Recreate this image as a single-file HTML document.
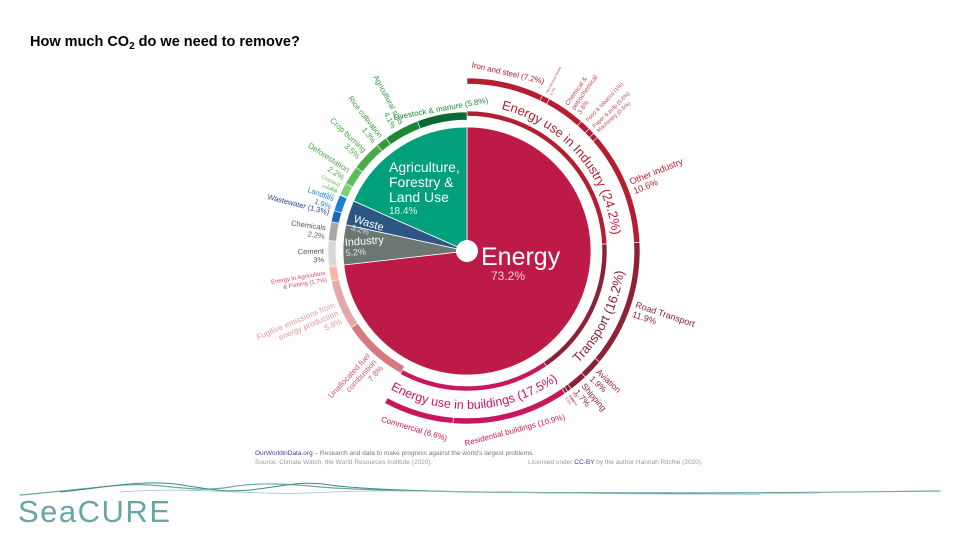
<!DOCTYPE html>
<html><head><meta charset="utf-8"><style>
html,body{margin:0;padding:0;background:#fff;}
body{width:960px;height:540px;overflow:hidden;position:relative;font-family:"Liberation Sans",sans-serif;}
</style></head><body>
<svg id="chart" width="960" height="540" viewBox="0 0 960 540" xmlns="http://www.w3.org/2000/svg" font-family="Liberation Sans, sans-serif">
<text x="30" y="46" font-size="14.5" font-weight="bold" fill="#000">How much CO<tspan font-size="10" dy="3">2</tspan><tspan dy="-3"> do we need to remove?</tspan></text>
<g id="pie"></g>
<g id="inner"></g>
<g id="outer"></g>
<g id="labels"></g>
<circle cx="467" cy="251" r="11" fill="#fff"/>
<g fill="#fff">
<text x="481" y="265" font-size="25">Energy</text>
<text x="491" y="280" font-size="12" fill="#f3d0da">73.2%</text>
<text x="389" y="172" font-size="14">Agriculture,</text>
<text x="389" y="187" font-size="14">Forestry &amp;</text>
<text x="389" y="202" font-size="14">Land Use</text>
<text x="389" y="214" font-size="10" fill="#d7f2e8">18.4%</text>
<g transform="translate(353,222) rotate(17)"><text font-size="11">Waste</text><text y="8" font-size="8" fill="#d0dced">3.2%</text></g>
<g transform="translate(345,246) rotate(-4)"><text font-size="11">Industry</text><text y="10" font-size="9" fill="#e4e6e4">5.2%</text></g>
</g>
<g font-size="6.5">
<text x="255" y="455" fill="#777"><tspan fill="#3b3e9a">OurWorldinData.org</tspan> – Research and data to make progress against the world’s largest problems.</text>
<text x="255" y="464" fill="#999">Source: Climate Watch, the World Resources Institute (2020).</text>
<text x="528" y="464" fill="#999">Licensed under <tspan fill="#3b3e9a">CC-BY</tspan> by the author Hannah Ritchie (2020).</text>
</g>
<g fill="none" stroke-linecap="round">
<path d="M20 495 C80 490,120 483,150 485 C180 487,200 492,230 487 C260 482,290 484,320 487 C380 492,600 495,940 491" stroke="#6aa7a5" stroke-width="1.2"/>
<path d="M60 492 C110 487,140 480,175 484 C205 488,220 493,250 490 C280 487,300 480,330 485 C380 492,500 493,760 494" stroke="#3f8b8a" stroke-width="1"/>
<path d="M120 492 C200 486,260 497,330 492 C420 488,600 497,820 493" stroke="#9ac5c3" stroke-width="0.8"/>
<text x="18" y="522" font-size="31" fill="#6aa5a5" stroke="none" letter-spacing="1.5">SeaCURE</text>
</g>
</svg>
<script>
const sectorNames=['Energy','Industry','Waste','Agriculture, Forestry & Land Use'];
const sectorValues=[73.2,5.2,3.2,18.4];
const subNames=['Energy use in Industry','Transport','Energy use in buildings','Unallocated fuel combustion','Fugitive emissions from energy production','Energy in Agriculture & Fishing','Cement','Chemicals','Wastewater','Landfills','Grassland','Cropland','Deforestation','Crop burning','Rice cultivation','Agricultural soils','Livestock & manure'];
const subValues=[24.2,16.2,17.5,7.8,5.8,1.7,3,2.2,1.3,1.9,0.1,1.4,2.2,3.5,1.3,4.1,5.8];
const detailNames=['Iron and steel','Non-ferrous metals','Chemical & petrochemical','Food & tobacco','Paper & pulp','Machinery','Other industry','Road Transport','Aviation','Shipping','Rail','Pipeline','Residential buildings','Commercial'];
const detailValues=[7.2,0.7,3.6,1,0.6,0.5,10.6,11.9,1.9,1.7,0.4,0.3,10.9,6.6];

const NS='http://www.w3.org/2000/svg';
const cx=467, cy=251;
const sectorColors=['#be1a48','#6d7772','#2c5683','#00a07b'];
const subColors=['#b51d31','#8c2238','#c8175d','#d57a7e','#e3a8aa','#f8b6a4','#d9d9d9','#a8a8a8','#1b68b6','#1f80d2','#8fdc86','#7ccf73','#5dbd5b','#49ab48','#36993a','#1c8734','#0b6a2f'];
const detailColors=['#b51d31','#b51d31','#b51d31','#b51d31','#b51d31','#b51d31','#b51d31','#8c2238','#8c2238','#8c2238','#8c2238','#8c2238','#c8175d','#c8175d'];
const subLabelColors=['#b51d31','#8c2238','#c8175d','#d05a6a','#e39a9e','#e8426e','#555','#555','#2d3f9a','#1f80d2','#5cbd5b','#5cbd5b','#48ab48','#48ab48','#36993a','#2a9a3f','#1c8a34'];
const subSize=[0,0,0,8,8,6,7.5,7.5,7.5,7.5,3.5,5,8,8,7.5,7.5,8];
const detailSize=[8,3.5,6.5,5.5,5.5,5.5,9,9,8.5,8.5,3.5,3.5,8,8];

function ang(p){return p*3.6;}
function pt(r,deg){const a=deg*Math.PI/180;return [cx+r*Math.sin(a),cy-r*Math.cos(a)];}
function wedge(r0,r1,a0,a1){
  const large=(a1-a0)>180?1:0;
  const [x0,y0]=pt(r1,a0),[x1,y1]=pt(r1,a1);
  if(r0<=0){return `M${cx} ${cy}L${x0} ${y0}A${r1} ${r1} 0 ${large} 1 ${x1} ${y1}Z`;}
  const [x2,y2]=pt(r0,a1),[x3,y3]=pt(r0,a0);
  return `M${x0} ${y0}A${r1} ${r1} 0 ${large} 1 ${x1} ${y1}L${x2} ${y2}A${r0} ${r0} 0 ${large} 0 ${x3} ${y3}Z`;
}
function mk(tag,parent){const e=document.createElementNS(NS,tag);parent.appendChild(e);return e;}

const pieG=document.getElementById('pie');
let acc=0;
sectorValues.forEach((v,i)=>{
  const p=mk('path',pieG);
  p.setAttribute('d',wedge(0,124,ang(acc),ang(acc+v)));
  p.setAttribute('fill',sectorColors[i]);p.setAttribute('stroke','#fff');p.setAttribute('stroke-width','0.8');
  
  
  acc+=v;
});

const innerG=document.getElementById('inner');
const labG=document.getElementById('labels');
acc=0;
const subStarts=[];
subValues.forEach((v,i)=>{
  subStarts.push(acc);
  const p=mk('path',innerG);
  const r0=i<3?135:131, r1=i<3?140:139;
  p.setAttribute('d',wedge(r0,r1,ang(acc),ang(acc+v)));
  p.setAttribute('fill',subColors[i]);p.setAttribute('stroke','#fff');p.setAttribute('stroke-width','0.6');
  
  
  acc+=v;
});

const outerG=document.getElementById('outer');
acc=0;
const detStarts=[];
detailValues.forEach((v,i)=>{
  detStarts.push(acc);
  const p=mk('path',outerG);
  p.setAttribute('d',wedge(167,173,ang(acc),ang(acc+v)));
  p.setAttribute('fill',detailColors[i]);p.setAttribute('stroke','#fff');p.setAttribute('stroke-width','0.6');
  
  
  acc+=v;
});

const defs=mk('defs',document.getElementById('chart'));
function curved(i,cw,r,size,offset){
  const a0=ang(subStarts[i])-20,a1=ang(subStarts[i]+subValues[i])+20;
  const path=mk('path',defs);
  path.setAttribute('id','cp'+i);
  if(cw){const [x0,y0]=pt(r,a0),[x1,y1]=pt(r,a1);path.setAttribute('d',`M${x0} ${y0}A${r} ${r} 0 0 1 ${x1} ${y1}`);}
  else{const [x0,y0]=pt(r,a1),[x1,y1]=pt(r,a0);path.setAttribute('d',`M${x0} ${y0}A${r} ${r} 0 0 0 ${x1} ${y1}`);}
  const t=mk('text',labG);
  
  
  t.setAttribute('font-size',size);t.setAttribute('fill',subLabelColors[i]);
  const tp=document.createElementNS(NS,'textPath');
  tp.setAttribute('href','#cp'+i);tp.setAttribute('startOffset',offset);tp.setAttribute('text-anchor','middle');
  tp.textContent=subNames[i]+' ('+subValues[i]+'%)';
  t.appendChild(tp);
}
curved(0,true,146,13,'54%');
curved(1,false,158,13,'50%');
curved(2,false,158,12.5,'50%');

function wrap(name,max){
  if(name.length<=max) return [name];
  const words=name.split(' ');let lines=[''];
  words.forEach(w=>{const cur=lines[lines.length-1];
    if(cur.length && (cur+' '+w).length>max) lines.push(w); else lines[lines.length-1]=cur?cur+' '+w:w;});
  return lines;
}
function label(name,value,mid,r,size,color,mode,key){
  const deg=ang(mid);
  const g=mk('g',labG);
  
  
  const t=mk('text',g);
  t.setAttribute('font-size',size);t.setAttribute('fill',color);
  let rot,anchor,x,y;
  if(mode==='tangent-top'){[x,y]=pt(r+3,deg);rot=deg;anchor='middle';}
  else if(mode==='tangent-bottom'){[x,y]=pt(r+3+size,deg);rot=deg-180;anchor='middle';}
  else if(deg<180){[x,y]=pt(r,deg);rot=deg-90;anchor='start';}
  else{[x,y]=pt(r,deg);rot=deg-270;anchor='end';}
  t.setAttribute('text-anchor',anchor);
  t.setAttribute('transform',`translate(${x},${y}) rotate(${rot})`);
  let lines;
  if(mode.indexOf('tangent')===0||mode==='inline'){lines=wrap(name+' ('+value+'%)',mode==='inline'?22:60);}
  else{lines=wrap(name,23).concat([value+'%']);}
  const off=(mode==='tangent-top')?-(lines.length-1)*(size+1):0;
  lines.forEach((ln,k)=>{
    const s=document.createElementNS(NS,'tspan');s.setAttribute('x',0);s.setAttribute('y',off+k*(size+1));s.textContent=ln;t.appendChild(s);
  });
}
const subModes=['','','','two','two','inline','two','two','inline','two','two','two','two','two','two','two','tangent-top'];
for(let i=3;i<subValues.length;i++){
  label(subNames[i],subValues[i],subStarts[i]+subValues[i]/2,i===16?139:143,subSize[i],subLabelColors[i],subModes[i],'inner-label-'+i);
}
const detModes=['tangent-top','two','two','inline','inline','inline','two','two','two','two','two','two','tangent-bottom','tangent-bottom'];
const detLabelColors=['#b51d31','#c4475a','#c4475a','#c4475a','#c4475a','#c4475a','#b51d31','#8c2238','#8c2238','#8c2238','#a05060','#a05060','#c8175d','#c8175d'];
for(let i=0;i<detailValues.length;i++){
  label(detailNames[i],detailValues[i],detStarts[i]+detailValues[i]/2,177,detailSize[i],detLabelColors[i],detModes[i],'outer-label-'+i);
}
</script>
</body></html>
